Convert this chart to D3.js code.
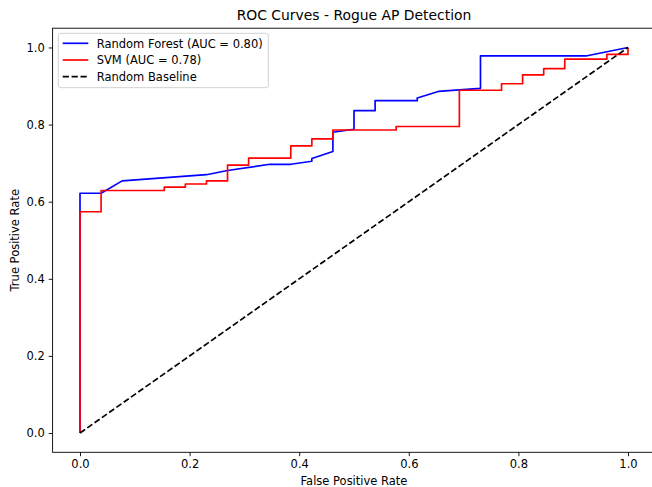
<!DOCTYPE html>
<html><head><meta charset="utf-8">
<script src="https://cdn.jsdelivr.net/npm/d3@7"></script>
<style>body{margin:0;background:#fff}svg{display:block}text{font-family:"DejaVu Sans",sans-serif;fill:#000}</style>
</head><body><svg id="c" width="652" height="487"></svg>
<script>
const rfFpr = [0,0,0.0385,0.0769,0.2308,0.2692,0.3462,0.3846,0.4231,0.4231,0.4615,0.4615,0.5,0.5,0.5385,0.5385,0.6154,0.6154,0.6538,0.6923,0.7308,0.7308,0.9231,1];
const rfTpr = [0,0.622,0.622,0.654,0.670,0.681,0.697,0.697,0.705,0.712,0.730,0.780,0.788,0.836,0.836,0.862,0.862,0.869,0.886,0.890,0.894,0.978,0.978,1];
const svmFpr = [0,0,0.0385,0.0385,0.1538,0.1538,0.1923,0.1923,0.2308,0.2308,0.2692,0.2692,0.3077,0.3077,0.3846,0.3846,0.4231,0.4231,0.4615,0.4615,0.5769,0.5769,0.6923,0.6923,0.7692,0.7692,0.8077,0.8077,0.8462,0.8462,0.8846,0.8846,0.9615,0.9615,1,1];
const svmTpr = [0,0.574,0.574,0.629,0.629,0.638,0.638,0.646,0.646,0.654,0.654,0.695,0.695,0.713,0.713,0.745,0.745,0.763,0.763,0.786,0.786,0.795,0.795,0.889,0.889,0.906,0.906,0.929,0.929,0.945,0.945,0.970,0.970,0.982,0.982,1];
const baseFpr = [0,1];
const baseTpr = [0,1];
const seriesNames = ["Random Forest (AUC = 0.80)","SVM (AUC = 0.78)","Random Baseline"];
const xTicks = [0,0.2,0.4,0.6,0.8,1.0];
const yTicks = [0,0.2,0.4,0.6,0.8,1.0];

const svg = d3.select("#c");
const L=52.6, R=655.4, T=28.2, B=452.3;
const x = d3.scaleLinear().domain([-0.05,1.05]).range([L,R]);
const y = d3.scaleLinear().domain([-0.05,1.05]).range([B,T]);

const lw = 1.67;
const fs = "11.5px";
const line = d3.line().x(d=>x(d[0])).y(d=>y(d[1]));
const zip = (a,b)=>a.map((v,i)=>[v,b[i]]);

svg.append("path").datum(zip(rfFpr,rfTpr)).attr("d",line).attr("fill","none").attr("stroke","#0000ff").attr("stroke-width",lw).attr("stroke-linejoin","round");
svg.append("path").datum(zip(svmFpr,svmTpr)).attr("d",line).attr("fill","none").attr("stroke","#ff0000").attr("stroke-width",lw).attr("stroke-linejoin","round");
svg.append("path").datum(zip(baseFpr,baseTpr)).attr("d",line).attr("fill","none").attr("stroke","#000").attr("stroke-width",lw).attr("stroke-dasharray","6.2,2.7");

// axes
const xAxis = d3.axisBottom(x).tickValues(xTicks).tickFormat(d3.format(".1f")).tickSize(3.9).tickPadding(3.9);
const yAxis = d3.axisLeft(y).tickValues(yTicks).tickFormat(d3.format(".1f")).tickSize(3.9).tickPadding(3.9);
const gx = svg.append("g").attr("transform",`translate(0,${B})`).call(xAxis);
const gy = svg.append("g").attr("transform",`translate(${L},0)`).call(yAxis);
[gx,gy].forEach(g=>{
  g.select(".domain").remove();
  g.selectAll("line").attr("stroke","#000").attr("stroke-width",0.9);
  g.selectAll("text").attr("font-size",fs).attr("font-family","DejaVu Sans");
});
// spines
svg.append("rect").attr("x",L).attr("y",T).attr("width",R-L).attr("height",B-T).attr("fill","none").attr("stroke","#000").attr("stroke-width",0.9);

svg.append("text").attr("x",(L+R)/2).attr("y",20).attr("text-anchor","middle").attr("font-size","13.9px").text("ROC Curves - Rogue AP Detection");
svg.append("text").attr("x",(L+R)/2).attr("y",484.5).attr("text-anchor","middle").attr("font-size",fs).text("False Positive Rate");
svg.append("text").attr("transform",`translate(18.5,${(T+B)/2}) rotate(-90)`).attr("text-anchor","middle").attr("font-size",fs).text("True Positive Rate");

// legend
const lg = svg.append("g");
lg.append("rect").attr("x",58.3).attr("y",33.3).attr("width",210).attr("height",54.4).attr("rx",2.5).attr("fill","#fff").attr("fill-opacity",0.8).attr("stroke","#ccc").attr("stroke-width",0.9);
const cols=["#0000ff","#ff0000","#000"];
seriesNames.forEach((n,i)=>{
  const yy = 43.3 + i*16.7;
  lg.append("line").attr("x1",62.7).attr("x2",88.3).attr("y1",yy).attr("y2",yy).attr("stroke",cols[i]).attr("stroke-width",lw).attr("stroke-dasharray", i==2?"6.2,2.7":null);
  lg.append("text").attr("x",96.7).attr("y",yy+4.2).attr("font-size",fs).text(n);
});
</script></body></html>
